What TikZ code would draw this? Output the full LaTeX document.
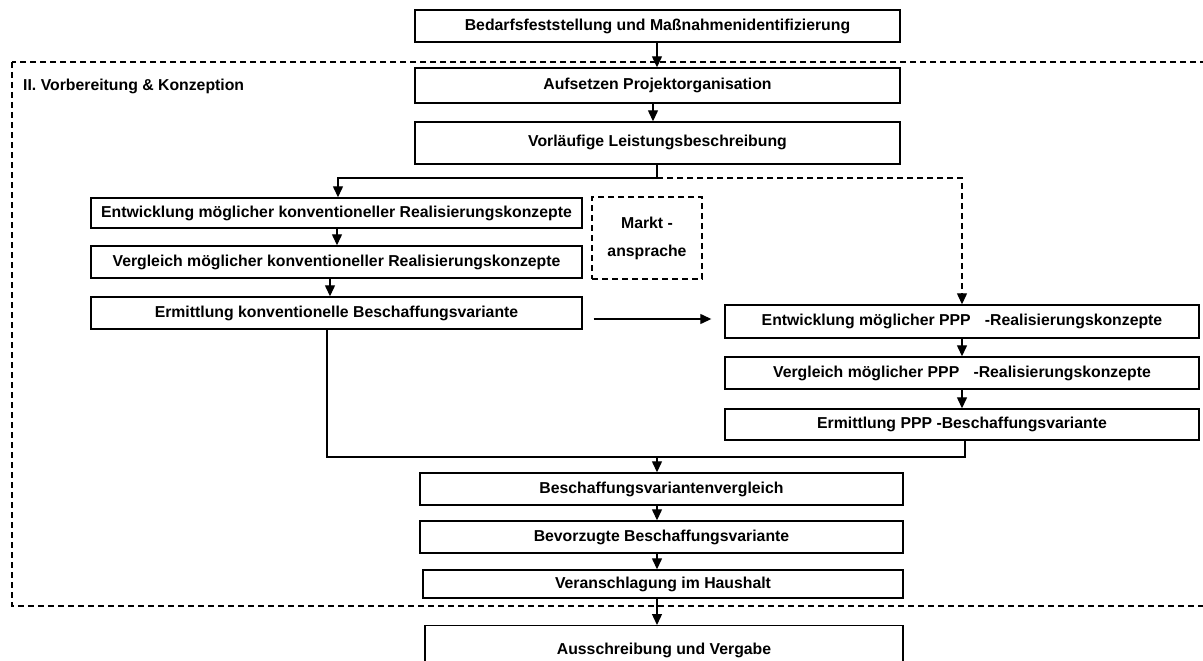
\documentclass[tikz,border=0pt]{standalone}
\usepackage{fontspec}
\setmainfont{Liberation Sans}
\usetikzlibrary{arrows.meta,calc}

\tikzset{
  txt/.style={font=\fontsize{15.8}{18}\selectfont\bfseries},
  box/.style={draw=black, line width=1.4pt, rectangle, inner sep=0pt, txt},
  dashbox/.style={draw=black, line width=1.2pt, dash pattern=on 6pt off 4pt,
    inner sep=0pt, font=\fontsize{15.8}{28}\selectfont\bfseries, align=center},
  line/.style={draw=black, line width=1.3pt},
  dline/.style={draw=black, line width=1.2pt, dash pattern=on 6pt off 4pt},
  arr/.style={line, -{Triangle[length=11pt,width=10pt]}},
  darr/.style={dline, -{Triangle[length=11pt,width=10pt]}}
}

\begin{document}
\begin{tikzpicture}[x=1pt,y=-1pt]
\useasboundingbox (0,0) rectangle (1203,661);

% phase frame
\draw[dline] (12,62) rectangle (1220,606);
\node[anchor=west, txt, inner sep=0pt] (title) at (23,86) {II. Vorbereitung \& Konzeption};

% central column, top
\node[box, minimum width=485, minimum height=32] (bed) at (657.5,26) {\raisebox{3pt}{Bedarfsfeststellung und Maßnahmenidentifizierung}};
\node[box, minimum width=485, minimum height=35] (auf) at (657.5,85.5) {Aufsetzen Projektorganisation};
\node[box, minimum width=485, minimum height=42] (vor) at (657.5,143) {\raisebox{5pt}{Vorläufige Leistungsbeschreibung}};

% conventional branch
\node[box, minimum width=491, minimum height=30] (ke) at (336.5,213) {Entwicklung möglicher konventioneller Realisierungskonzepte};
\node[box, minimum width=491, minimum height=32] (kv) at (336.5,262) {Vergleich möglicher konventioneller Realisierungskonzepte};
\node[box, minimum width=491, minimum height=32] (km) at (336.5,313) {Ermittlung konventionelle Beschaffungsvariante};

% market sounding
\node[dashbox, minimum width=110, minimum height=82] (markt) at (647,238) {\raisebox{3pt}{Markt -}\\\raisebox{3pt}{ansprache}};

% PPP branch
\node[box, minimum width=474, minimum height=33] (pe) at (962,321.5) {Entwicklung möglicher PPP\hspace{0.9em}-Realisierungskonzepte};
\node[box, minimum width=474, minimum height=32] (pv) at (962,373) {Vergleich möglicher PPP\hspace{0.9em}-Realisierungskonzepte};
\node[box, minimum width=474, minimum height=31] (pm) at (962,424.5) {Ermittlung PPP -Beschaffungsvariante};

% central column, bottom
\node[box, minimum width=483, minimum height=32] (bvv) at (661.5,489) {Beschaffungsvariantenvergleich};
\node[box, minimum width=483, minimum height=32] (bev) at (661.5,537) {Bevorzugte Beschaffungsvariante};
\node[box, minimum width=480, minimum height=28] (ver) at (663,584) {Veranschlagung im Haushalt};
\node[box, minimum width=478, minimum height=50, anchor=north] (aus) at (664,625) {\raisebox{-10pt}{Ausschreibung und Vergabe}};

% connectors
\coordinate (split) at (657,178);
\draw[arr] (bed.south -| 657,0) -- (auf.north -| 657,0);
\draw[arr] (auf.south -| 653,0) -- (vor.north -| 653,0);
\draw[line] (vor.south -| split) -- (split);
\draw[arr] (split) -- (338,178) -- (ke.north -| 338,0);
\draw[darr] (split) -- (962,178) -- (pe.north);
\draw[arr] (ke.south -| 337,0) -- (kv.north -| 337,0);
\draw[arr] (kv.south -| 330,0) -- (km.north -| 330,0);
\draw[arr] ($(km.east)+(11,6)$) -- ($(pe.west)+(-13,-2.5)$);
\draw[arr] (pe.south) -- (pv.north);
\draw[arr] (pv.south) -- (pm.north);
\coordinate (join) at (657,457);
\draw[line] (km.south -| 327,0) -- (327,457) -- (965,457) -- (pm.south -| 965,0);
\draw[arr] (join) -- (bvv.north -| join);
\draw[arr] (bvv.south -| 657,0) -- (bev.north -| 657,0);
\draw[arr] (bev.south -| 657,0) -- (ver.north -| 657,0);
\draw[arr] (ver.south -| 657,0) -- (aus.north -| 657,0);
\end{tikzpicture}
\end{document}
